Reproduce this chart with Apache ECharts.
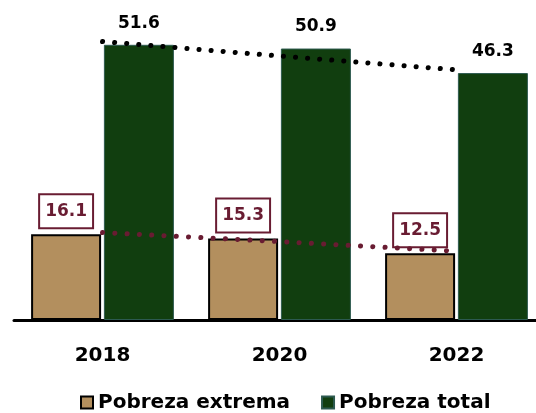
<!DOCTYPE html>
<html>
<head>
<meta charset="utf-8">
<script src="https://cdn.jsdelivr.net/npm/echarts@6/dist/echarts.min.js"></script>
<style>
  html, body { margin: 0; padding: 0; background: #fff; }
  #chart { width: 536px; height: 413px; }
</style>
</head>
<body>
<div id="chart"></div>
<script>
var years = ['2018', '2020', '2022'];
var extrema = [16.1, 15.3, 12.5];
var total = [51.6, 50.9, 46.3];
// dotted trend lines, as drawn in the picture (slightly off the bar tops)
var extremaTrend = [16.4, 14.7, 12.9];
var totalTrend = [52.2, 49.5, 46.9];

var tan = '#b38f5e';
var green = '#113e0f';
var maroon = '#691c32';
var font = 'DejaVu Sans';

var chart = echarts.init(document.getElementById('chart'), null, { renderer: 'canvas' });
chart.setOption({
  animation: false,
  grid: { left: 14, width: 531, top: 0, bottom: 93, outerBoundsMode: 'none', containLabel: false },
  legend: {
    data: ['Pobreza extrema', 'Pobreza total'],
    icon: 'rect',
    left: 80,
    top: 392,
    padding: 0,
    itemWidth: 12,
    itemHeight: 12,
    itemGap: 31,
    textStyle: { fontFamily: font, fontWeight: 'bold', fontSize: 20, lineHeight: 21, color: '#000' }
  },
  xAxis: {
    type: 'category',
    data: years,
    axisLine: { lineStyle: { color: '#000', width: 3 } },
    axisTick: { show: false },
    axisLabel: { color: '#000', fontFamily: font, fontWeight: 'bold', fontSize: 20, margin: 26 }
  },
  yAxis: {
    type: 'value',
    min: 0,
    max: 60,
    show: false
  },
  series: [{
    name: 'Pobreza extrema',
    type: 'bar',
    data: extrema,
    barWidth: 70,
    barGap: '4%',
    itemStyle: { color: tan, borderColor: '#000', borderWidth: 2 },
    label: {
      show: true,
      position: 'top',
      distance: 7,
      color: maroon,
      fontFamily: font,
      fontWeight: 'bold',
      fontSize: 17,
      lineHeight: 19,
      backgroundColor: '#fff',
      borderColor: maroon,
      borderWidth: 2,
      padding: [7, 5, 6, 5],
      formatter: function(p) { return p.value.toFixed(1); }
    }
  }, {
    name: 'Pobreza total',
    type: 'bar',
    data: total,
    barWidth: 70,
    itemStyle: { color: green, borderColor: '#2d5a50', borderWidth: 1 },
    label: {
      show: true,
      position: 'top',
      distance: 13,
      color: '#000',
      fontFamily: font,
      fontWeight: 'bold',
      fontSize: 17,
      formatter: function(p) { return p.value.toFixed(1); }
    }
  }, {
    name: 'trend extrema',
    type: 'line',
    data: extremaTrend,
    symbol: 'none',
    z: 5,
    lineStyle: { color: maroon, width: 5, type: [0.1, 12.2], cap: 'round' }
  }, {
    name: 'trend total',
    type: 'line',
    data: totalTrend,
    symbol: 'none',
    z: 5,
    lineStyle: { color: '#000', width: 5, type: [0.1, 12.0], cap: 'round' }
  }]
});
window.addEventListener('resize', function() { chart.resize(); });
</script>
</body>
</html>
